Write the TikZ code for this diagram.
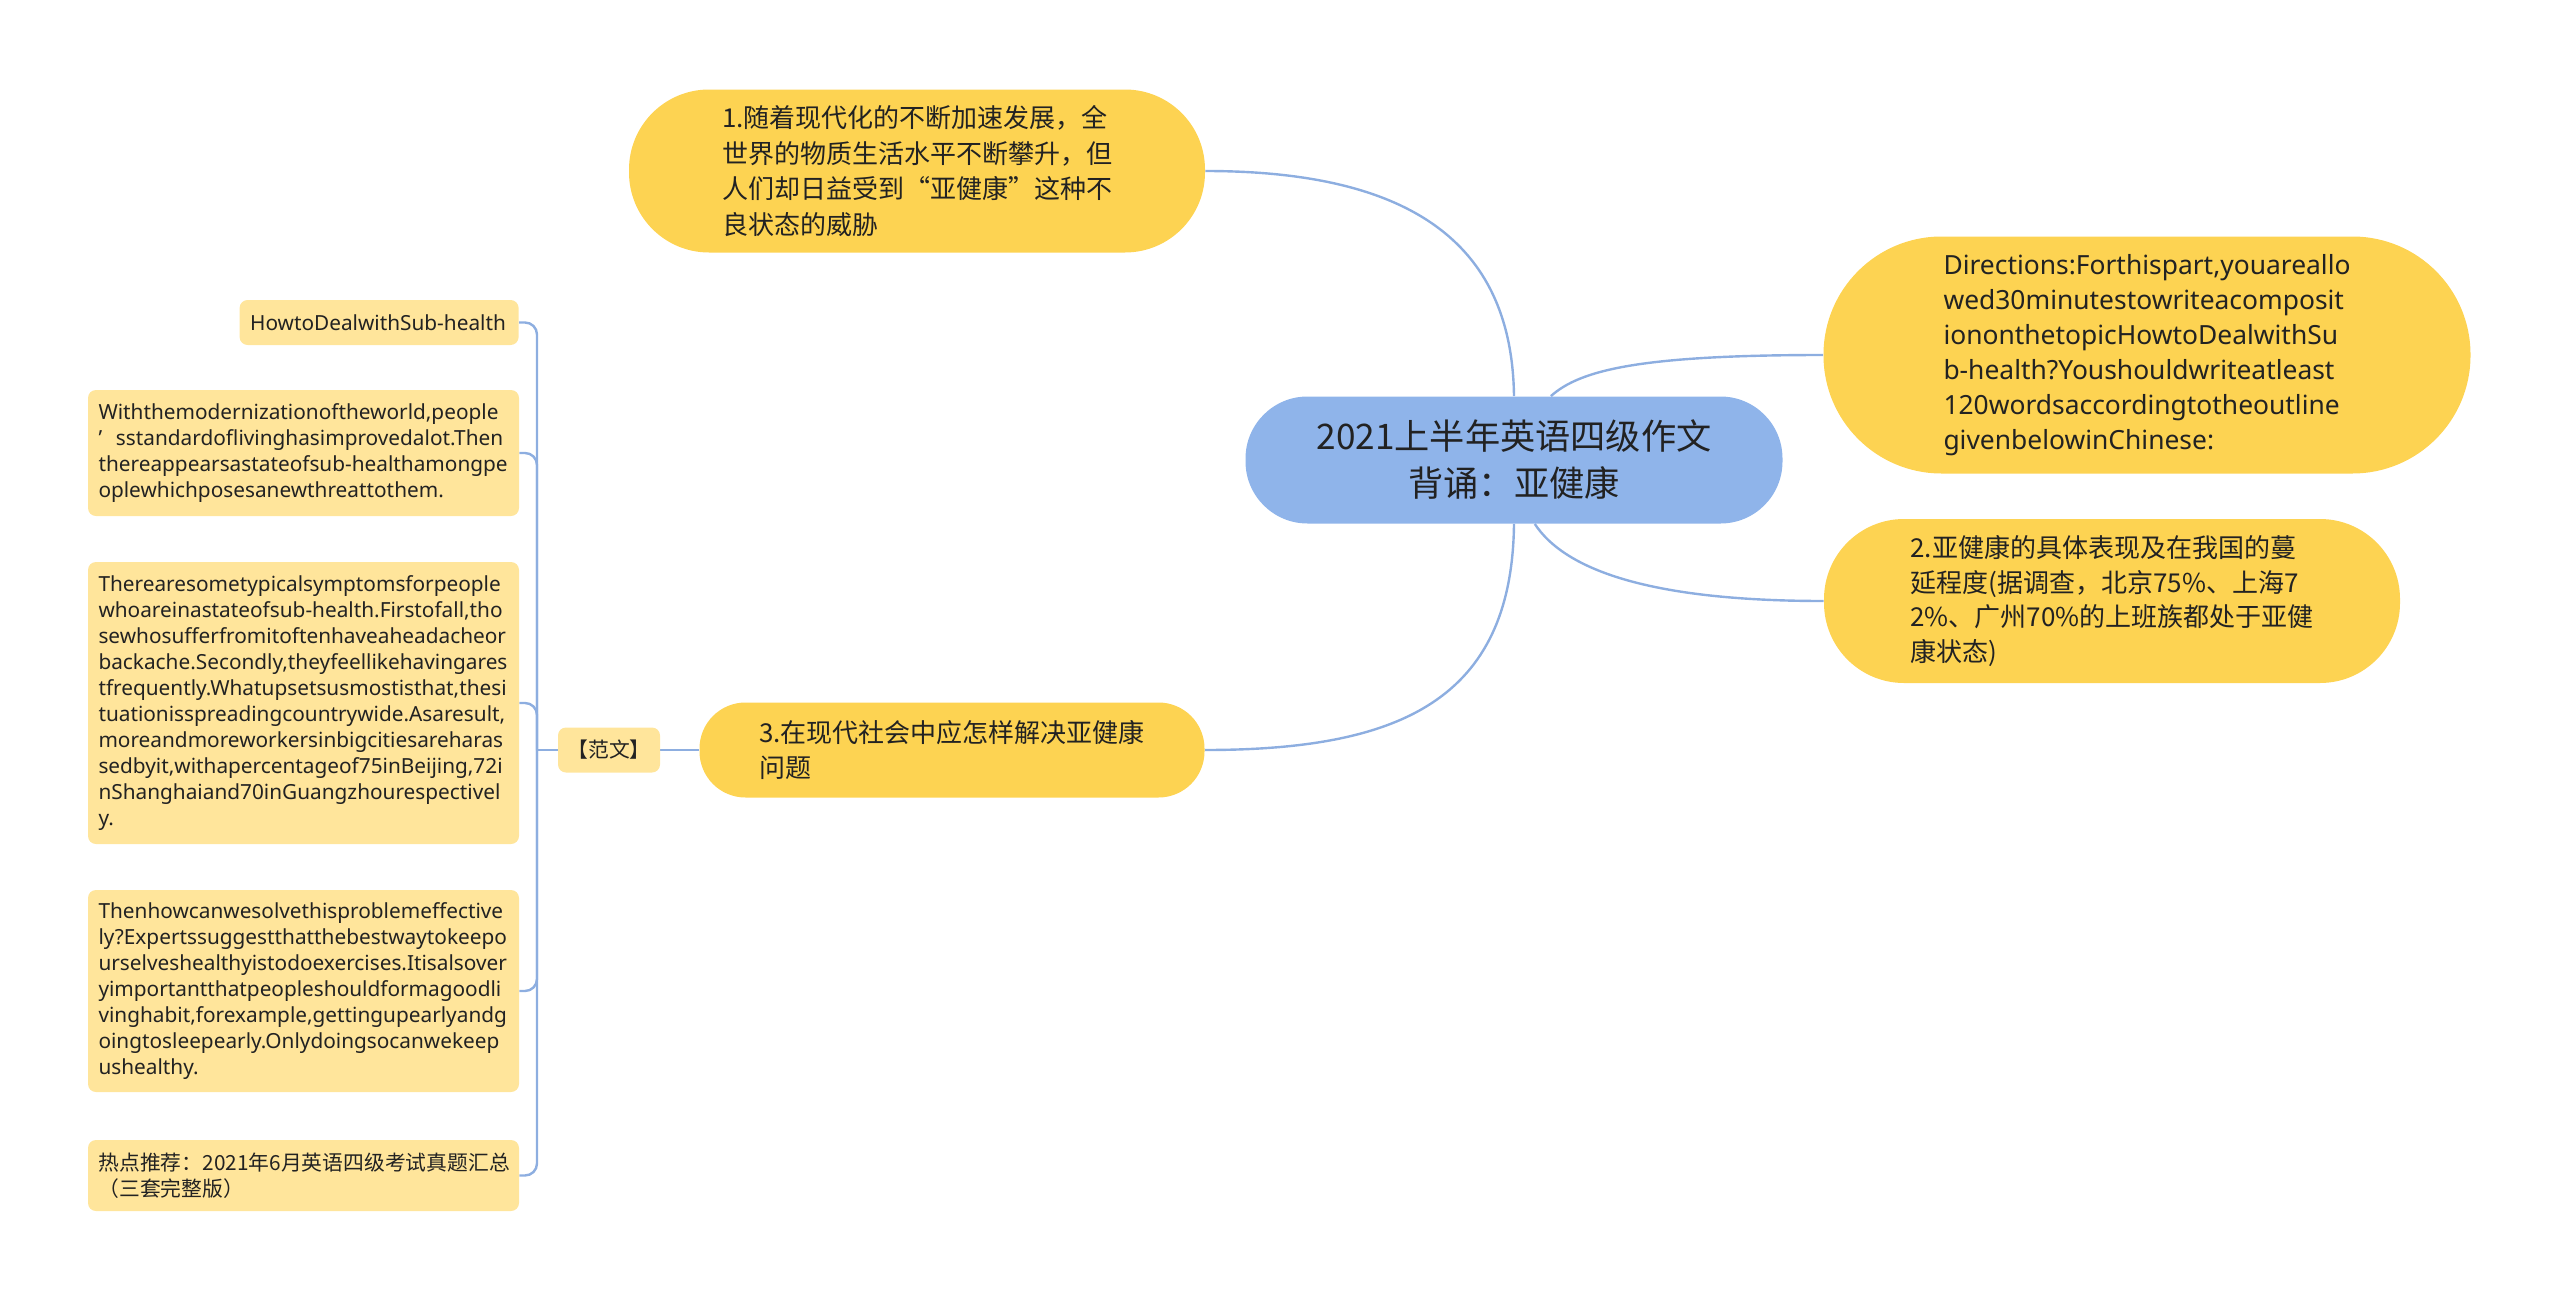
\documentclass[tikz,border=0pt]{standalone}
\usepackage{fontspec}
\setmainfont{Noto Sans}
\newfontfamily\cjk{Noto Sans CJK SC}
\usetikzlibrary{backgrounds}

\definecolor{rootblue}{HTML}{8FB4EA}
\definecolor{topicyellow}{HTML}{FDD352}
\definecolor{leafyellow}{HTML}{FFE59B}
\definecolor{linkblue}{HTML}{8DAEE0}
\definecolor{textdark}{HTML}{222222}

\begin{document}
\begin{tikzpicture}[x=0.5pt,y=-0.5pt,
    link/.style={draw=linkblue, line width=1.2pt},
    root/.style={fill=rootblue, align=center, text=textdark, font=\cjk\fontsize{17.6}{23.5}\selectfont},
    topic/.style={fill=topicyellow, align=left, text=textdark},
    leaf/.style={fill=leafyellow, rounded corners=4pt, align=left, text=textdark, text width=205pt, inner xsep=5.25pt, font=\fontsize{10.4}{13}\selectfont}]
        \useasboundingbox (0,0) rectangle (2560,1301);

        % centre
        \node[root, rounded corners=31pt, minimum width=268.5pt, minimum height=63.5pt] (root) at (1514,460) {2021上半年英语四级作文\\背诵：亚健康};

        % main topics
        \node[topic, rounded corners=40pt, minimum width=288pt, minimum height=81.5pt, font=\cjk\fontsize{13}{17.7}\selectfont] (modern) at (917,171) {1.随着现代化的不断加速发展，全\\世界的物质生活水平不断攀升，但\\人们却日益受到“亚健康”这种不\\良状态的威胁};
        \node[topic, rounded corners=59pt, minimum width=323.5pt, minimum height=118.5pt, font=\fontsize{13.2}{17.5}\selectfont] (directions) at (2147,355) {Directions:Forthispart,youareallo\\wed30minutestowriteacomposit\\iononthetopicHowtoDealwithSu\\b-health?Youshouldwriteatleast\\120wordsaccordingtotheoutline\\givenbelowinChinese:};
        \node[topic, rounded corners=40pt, minimum width=288pt, minimum height=82pt, font=\cjk\fontsize{13}{17.4}\selectfont] (symptom) at (2112,601) {2.亚健康的具体表现及在我国的蔓\\延程度(据调查，北京75\%、上海7\\2\%、广州70\%的上班族都处于亚健\\康状态)};
        \node[topic, rounded corners=23pt, minimum width=252.5pt, minimum height=47.5pt, font=\cjk\fontsize{13}{17.4}\selectfont] (solve) at (952,750) {3.在现代社会中应怎样解决亚健康\\问题};

        % sample essay
        \node[fill=leafyellow, rounded corners=4pt, minimum width=51pt, minimum height=22.5pt, text=textdark, font=\cjk\fontsize{10.4}{13}\selectfont] (fanwen) at (609,750) {【范文】};
        \coordinate (fork) at (537,750);

        \node[leaf, text width=129pt, anchor=east, minimum height=22.5pt] (title) at (519,322.5) {HowtoDealwithSub-health};
        \node[leaf, minimum height=63pt] (para1) at (303.5,453) {Withthemodernizationoftheworld,people\\’\ \ sstandardoflivinghasimprovedalot.Then\\thereappearsastateofsub-healthamongpe\\oplewhichposesanewthreattothem.};
        \node[leaf, minimum height=141pt] (para2) at (303.5,703) {Therearesometypicalsymptomsforpeople\\whoareinastateofsub-health.Firstofall,tho\\sewhosufferfromitoftenhaveaheadacheor\\backache.Secondly,theyfeellikehavingares\\tfrequently.Whatupsetsusmostisthat,thesi\\tuationisspreadingcountrywide.Asaresult,\\moreandmoreworkersinbigcitiesareharas\\sedbyit,withapercentageof75inBeijing,72i\\nShanghaiand70inGuangzhourespectivel\\y.};
        \node[leaf, minimum height=101pt] (para3) at (303.5,991) {Thenhowcanwesolvethisproblemeffective\\ly?Expertssuggestthatthebestwaytokeepo\\urselveshealthyistodoexercises.Itisalsover\\yimportantthatpeopleshouldformagoodli\\vinghabit,forexample,gettingupearlyandg\\oingtosleepearly.Onlydoingsocanwekeep\\ushealthy.};
        \node[leaf, minimum height=35.5pt, font=\cjk\fontsize{10.4}{13}\selectfont] (hot) at (303.5,1175.5) {热点推荐：2021年6月英语四级考试真题汇总\\（三套完整版）};

        % connectors
        \begin{scope}[on background layer]
        \draw[link] (root.north) .. controls (1512,250) and (1420,171) .. (modern.east);
        \draw[link] (root.60) .. controls (1580,370) and (1640,355) .. (directions.west);
        \draw[link] (root.-72) .. controls (1565,570) and (1650,601) .. (symptom.west);
        \draw[link] (root.south) .. controls (1512,700) and (1400,750) .. (solve.east);
        \draw[link] (solve.west) -- (fanwen.east);
        \draw[link] (fanwen.west) -- (fork);
        \foreach \leafname in {title,para1,para2,para3,hot}
            \draw[link, rounded corners=6pt] (fork) |- (\leafname.east);
        \end{scope}

\end{tikzpicture}
\end{document}
